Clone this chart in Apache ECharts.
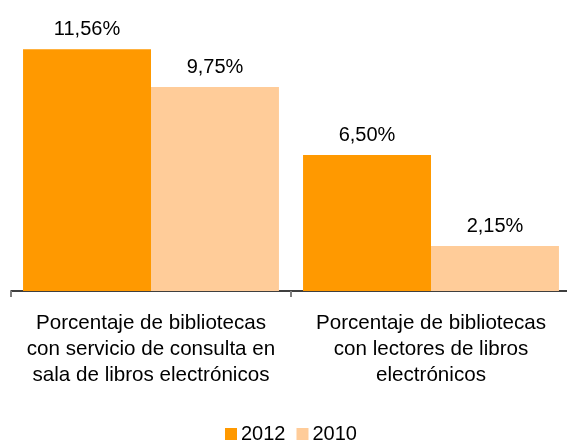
<!DOCTYPE html>
<html>
<head>
<meta charset="utf-8">
<script src="https://cdn.jsdelivr.net/npm/echarts@6/dist/echarts.min.js"></script>
<style>
html,body{margin:0;padding:0;background:#fff;}
#c{width:567px;height:441px;}
</style>
</head>
<body>
<div id="c"></div>
<script>
const categories = [
  "Porcentaje de bibliotecas\ncon servicio de consulta en\nsala de libros electrónicos",
  "Porcentaje de bibliotecas\ncon lectores de libros\nelectrónicos"
];
const seriesNames = ["2012", "2010"];
const values2012 = [11.56, 6.50];
const values2010 = [9.75, 2.15];
const colors = ["#FF9900", "#FFCC99"];

const fmt = p => p.value.toFixed(2).replace('.', ',') + '%';
const font = "'Liberation Sans', Arial, sans-serif";

const chart = echarts.init(document.getElementById('c'));
chart.setOption({
  animation: false,
  textStyle: { fontFamily: font },
  grid: { left: 11, width: 560, top: 40, height: 251, containLabel: false, outerBoundsMode: 'none' },
  legend: {
    data: seriesNames,
    top: 424,
    left: 225,
    padding: 0,
    icon: 'rect',
    itemWidth: 12,
    itemHeight: 12,
    itemGap: 11,
    textStyle: { fontSize: 20, lineHeight: 20, color: '#000', fontFamily: font, padding: [0, 0, 0, -1] }
  },
  xAxis: {
    type: 'category',
    data: categories,
    axisLine: { lineStyle: { color: '#000', width: 1.5 } },
    axisTick: { show: true, length: 6, lineStyle: { color: '#808080', width: 2 } },
    axisLabel: {
      interval: 0,
      fontSize: 20.6,
      lineHeight: 26,
      color: '#000',
      margin: 19,
      fontFamily: font
    }
  },
  yAxis: {
    type: 'value',
    min: 0,
    max: 12,
    show: false
  },
  series: [
    {
      name: seriesNames[0],
      type: 'bar',
      data: values2012,
      itemStyle: { color: colors[0] },
      barGap: '0%',
      barCategoryGap: '8.6%',
      label: { show: true, position: 'top', distance: 10, formatter: fmt, fontSize: 20, color: '#000', fontFamily: font }
    },
    {
      name: seriesNames[1],
      type: 'bar',
      data: values2010,
      itemStyle: { color: colors[1] },
      barGap: '0%',
      barCategoryGap: '8.6%',
      label: { show: true, position: 'top', distance: 10, formatter: fmt, fontSize: 20, color: '#000', fontFamily: font }
    }
  ]
});
</script>
</body>
</html>
